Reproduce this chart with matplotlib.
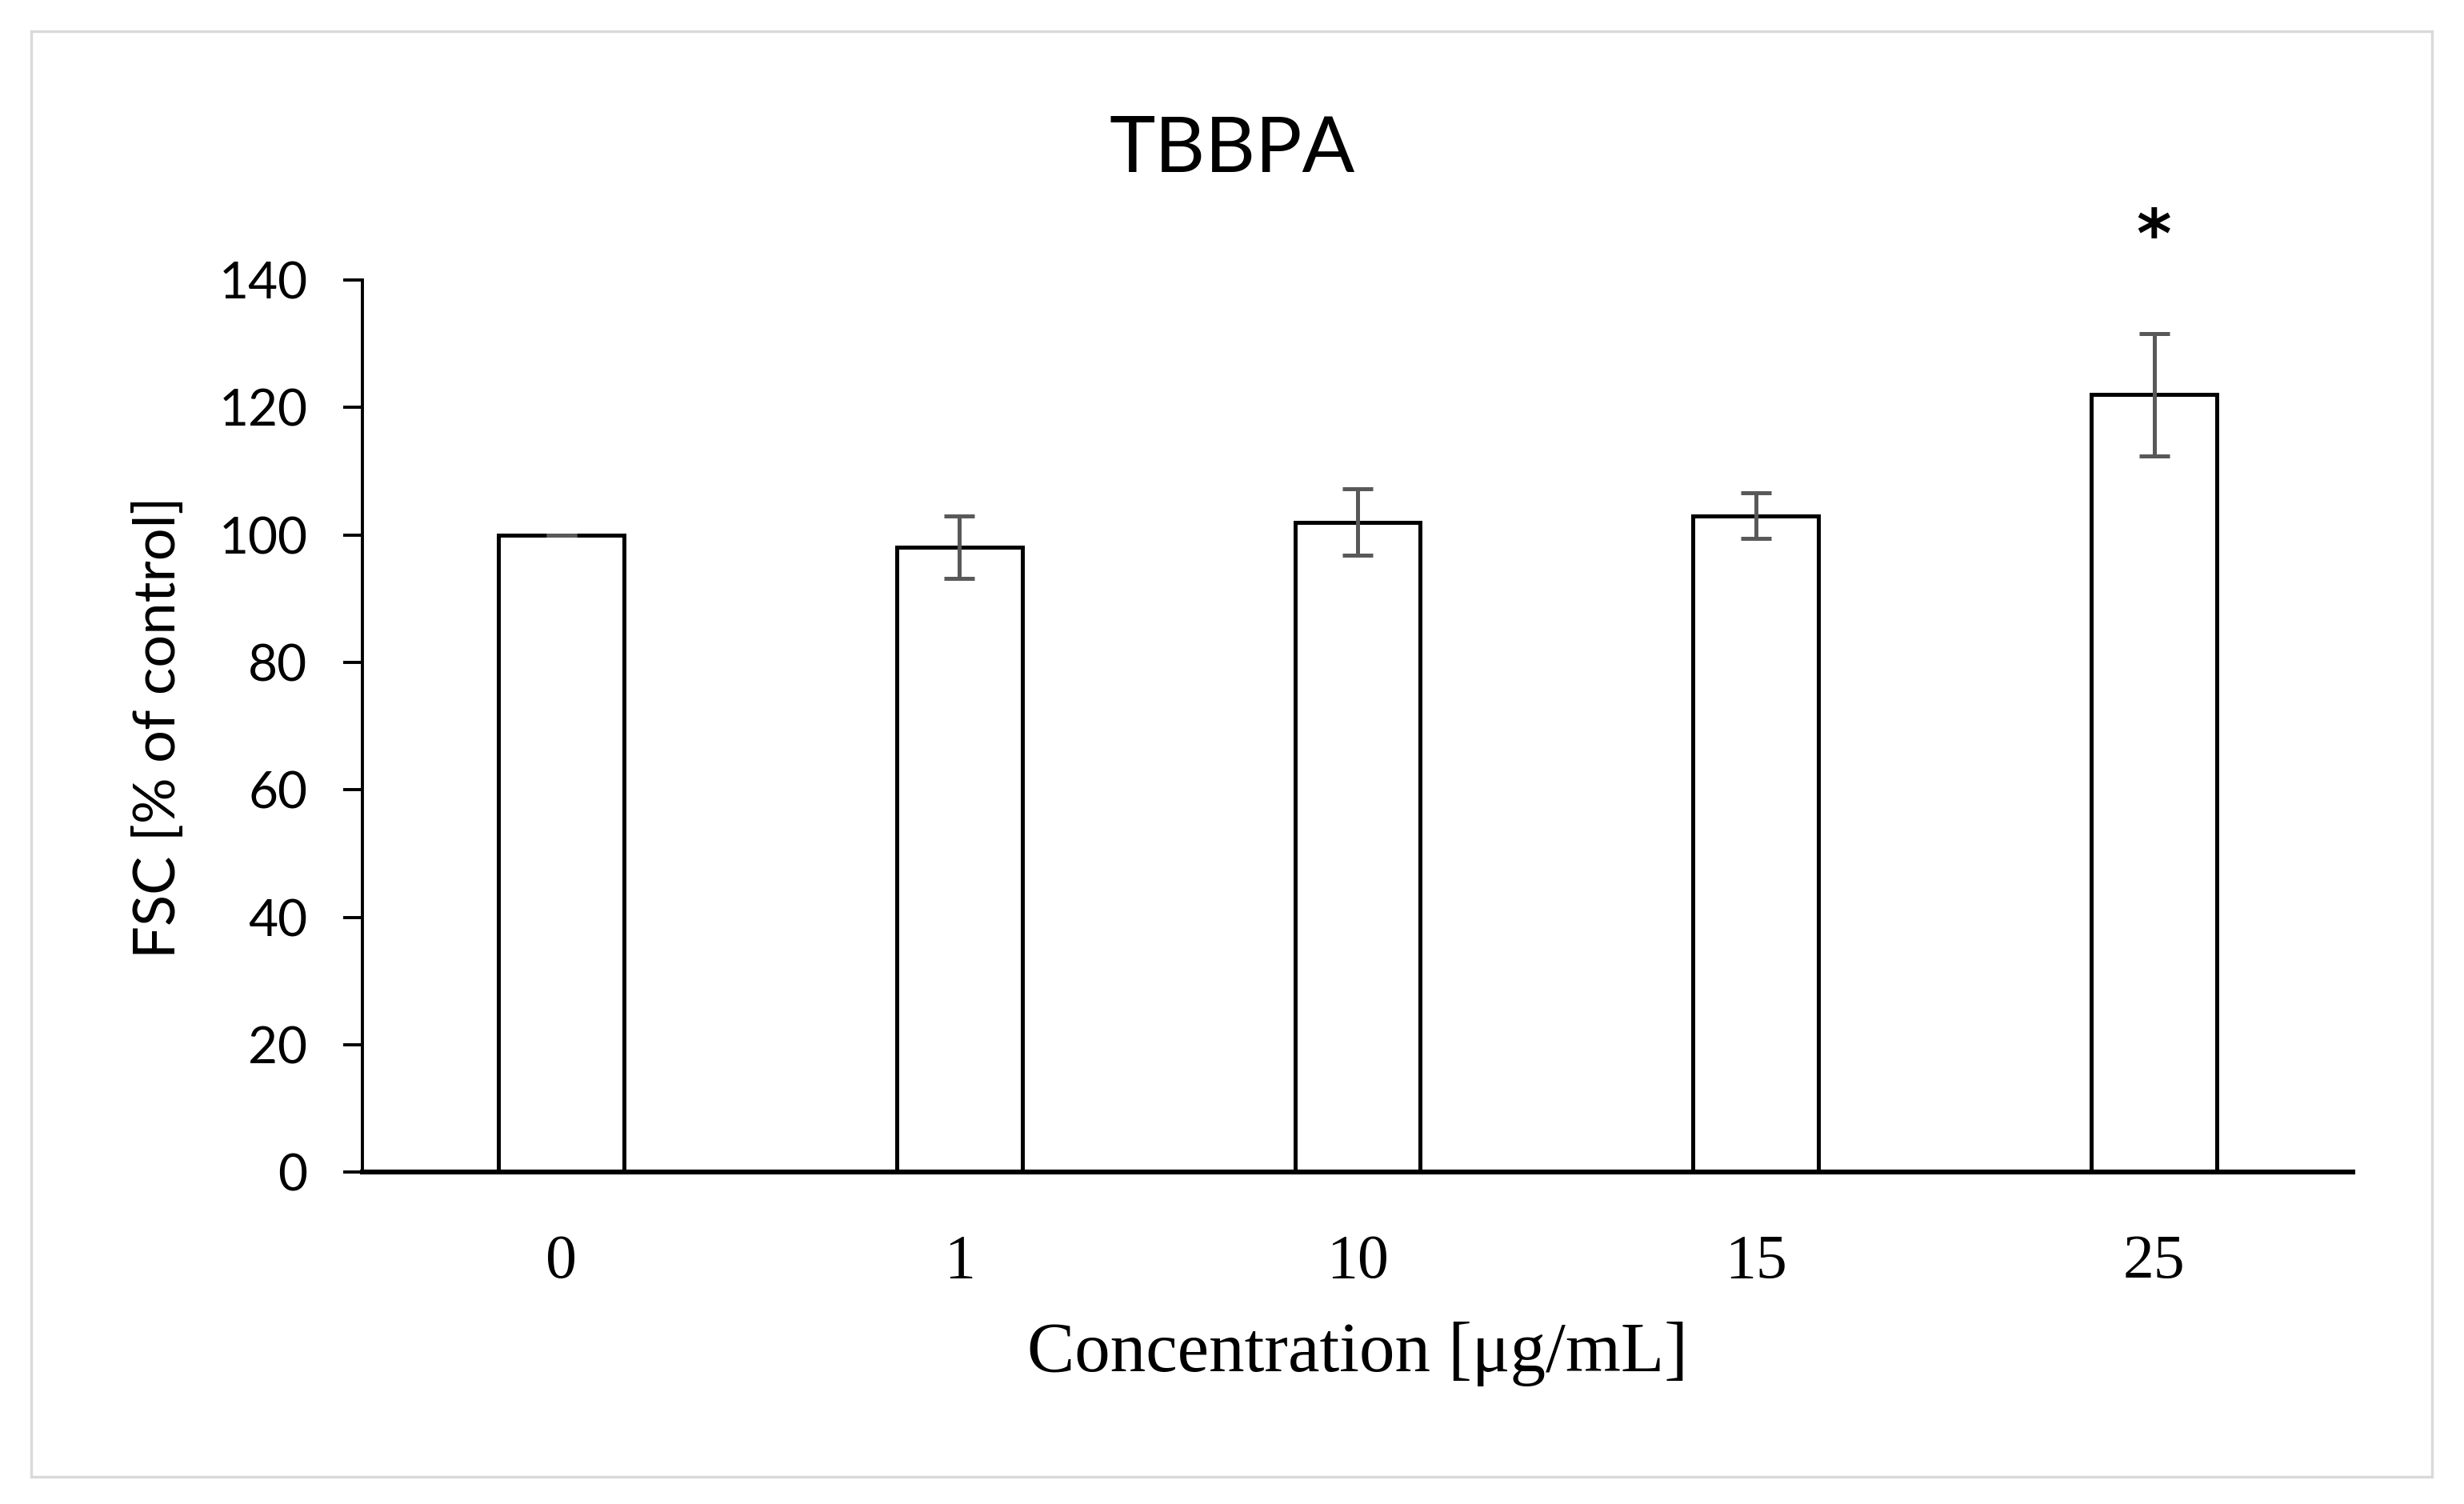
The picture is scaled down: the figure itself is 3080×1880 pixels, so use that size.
import matplotlib
matplotlib.use('Agg')
import matplotlib.pyplot as plt
from matplotlib.patches import Rectangle

# FSC of cells exposed to TBBPA, % of control
concentrations = ['0', '1', '10', '15', '25']
fsc_mean = [100, 98.1, 102.0, 103.0, 122.0]
fsc_err = [0, 4.9, 5.2, 3.6, 9.6]
significant = [False, False, False, False, True]

fig = plt.figure(figsize=(15.4, 9.4), dpi=200)
ax = fig.add_axes([0.147, 0.2207, 0.808, 0.5931])

x = range(len(concentrations))
ax.bar(x, fsc_mean, width=0.315, color='white', edgecolor='black', linewidth=1.8,
       yerr=fsc_err, error_kw=dict(ecolor='#595959', elinewidth=1.8, capsize=6.7, capthick=1.8),
       zorder=2)

for i, sig in enumerate(significant):
    if sig:
        ax.text(i, fsc_mean[i] + fsc_err[i] + 15, '*', ha='center', va='center',
                fontsize=30, fontweight='bold', family='DejaVu Sans')

ax.set_xlim(-0.5, 4.5)
ax.set_ylim(0, 140)
ax.set_yticks(range(0, 141, 20))
ax.set_xticks(list(x))
ax.set_xticklabels(concentrations, family='Liberation Serif', fontsize=28)
for lab in ax.get_yticklabels():
    lab.set_family('Lato')
    lab.set_fontsize(23)

ax.spines['top'].set_visible(False)
ax.spines['right'].set_visible(False)
ax.spines['left'].set_linewidth(1.4)
ax.spines['bottom'].set_linewidth(2.2)
ax.tick_params(axis='y', length=8.6, width=1.4, pad=16)
ax.tick_params(axis='x', length=0, pad=28)

fig.text(0.5, 0.9, 'TBBPA', ha='center', va='center', fontsize=35, family='Lato')
fig.text(0.551, 0.0995, 'Concentration [\u03bcg/mL]', ha='center', va='center',
         fontsize=32, family='Liberation Serif')
fig.text(0.0643, 0.5165, 'FSC [% of control]', ha='center', va='center', rotation=90,
         fontsize=26, family='Lato')

fig.patches.append(Rectangle((0.0127, 0.018), 0.9744, 0.961, transform=fig.transFigure,
                             fill=False, edgecolor='#d9d9d9', linewidth=1.2))

fig.savefig('out.png', dpi=200)
